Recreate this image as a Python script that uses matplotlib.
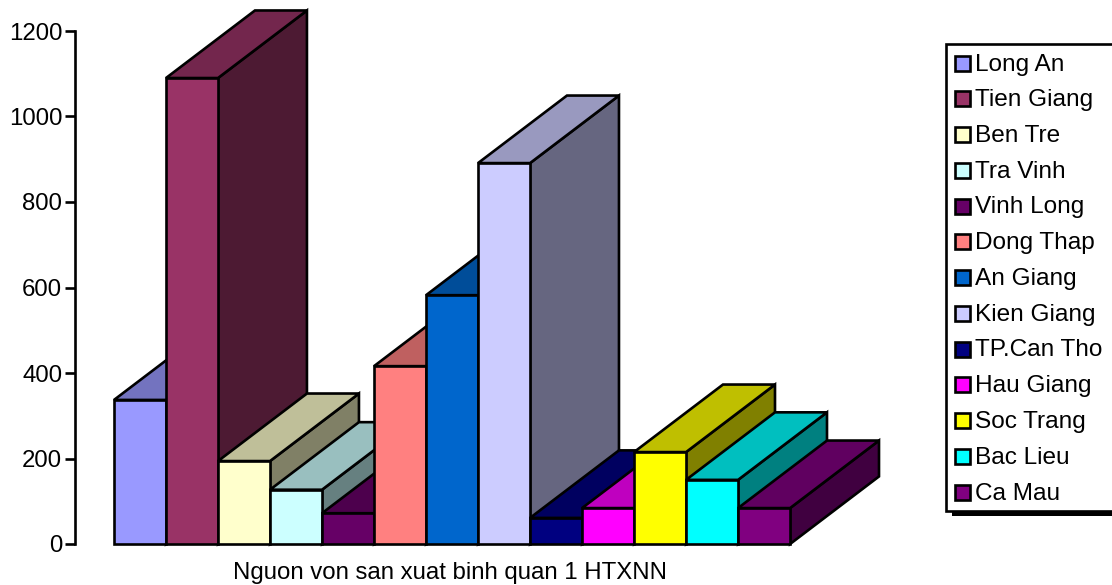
import matplotlib
matplotlib.use("Agg")
import matplotlib.pyplot as plt
from matplotlib.colors import to_rgb
from matplotlib.patches import Polygon, Rectangle

provinces = ["Long An", "Tien Giang", "Ben Tre", "Tra Vinh", "Vinh Long", "Dong Thap", "An Giang",
             "Kien Giang", "TP.Can Tho", "Hau Giang", "Soc Trang", "Bac Lieu", "Ca Mau"]
capital = [337, 1090, 194, 127, 72, 416, 582, 891, 61, 84, 215, 150, 84]
colors = ["#9999FF", "#993366", "#FFFFCC", "#CCFFFF", "#660066", "#FF8080", "#0066CC",
          "#CCCCFF", "#000080", "#FF00FF", "#FFFF00", "#00FFFF", "#800080"]
y_ticks = [0, 200, 400, 600, 800, 1000, 1200]
x_title = "Nguon von san xuat binh quan 1 HTXNN"

W, H = 1112, 585
plt.rcParams["font.family"] = ["Liberation Sans", "DejaVu Sans"]
fig = plt.figure(figsize=(W / 100, H / 100), dpi=100, facecolor="white")

# Axes frame in pixels: value axis at x=75, baseline at y=544, 1200 at y=31
left, right, top, bottom = 75, 879, 31, 544
ax = fig.add_axes([left / W, 1 - bottom / H, (right - left) / W, (bottom - top) / H])
ax.set_xlim(-0.75, 14.71)
ax.set_ylim(0, 1200)

# Oblique depth of the extruded columns, in data units
depth_x, depth_y = 1.71, 158


def shade(color, k):
    return tuple(c * k for c in to_rgb(color))


edge = dict(edgecolor="black", linewidth=1.9, joinstyle="miter", clip_on=False)
for i, (value, color) in enumerate(zip(capital, colors)):
    x0, x1 = i, i + 1
    side = [(x1, 0), (x1 + depth_x, depth_y), (x1 + depth_x, value + depth_y), (x1, value)]
    roof = [(x0, value), (x0 + depth_x, value + depth_y), (x1 + depth_x, value + depth_y), (x1, value)]
    front = [(x0, 0), (x0, value), (x1, value), (x1, 0)]
    ax.add_patch(Polygon(side, closed=True, facecolor=shade(color, 0.5), zorder=2 + i, **edge))
    ax.add_patch(Polygon(roof, closed=True, facecolor=shade(color, 0.75), zorder=2 + i, **edge))
    ax.add_patch(Polygon(front, closed=True, facecolor=color, zorder=2 + i, **edge))

for name in ("top", "right", "bottom"):
    ax.spines[name].set_visible(False)
ax.spines["left"].set_linewidth(1.9)
ax.patch.set_alpha(0)
ax.set_xticks([])
ax.set_yticks(y_ticks)
ax.tick_params(axis="y", length=7.2, width=1.9, labelsize=17.3, pad=2, color="black")

# Pixel-space overlay for the legend box and the category title
overlay = fig.add_axes([0, 0, 1, 1], zorder=-1)
overlay.set_xlim(0, W)
overlay.set_ylim(H, 0)
overlay.axis("off")
overlay.text(450, 573, x_title, fontsize=17.3, ha="center", va="center", color="black")

legend_layer = fig.add_axes([0, 0, 1, 1], zorder=5)
legend_layer.set_xlim(0, W)
legend_layer.set_ylim(H, 0)
legend_layer.axis("off")
legend_layer.add_patch(Rectangle((952, 60), 170, 456, facecolor="black", edgecolor="none"))
legend_layer.add_patch(Rectangle((946, 44), 176, 467, facecolor="white", edgecolor="black", linewidth=1.9))
for i, (name, color) in enumerate(zip(provinces, colors)):
    y = 63 + i * 35.75
    legend_layer.add_patch(Rectangle((955, y - 7.5), 15, 15, facecolor=color, edgecolor="black", linewidth=1.9))
    legend_layer.text(975, y + 1.5, name, fontsize=17.6, ha="left", va="center", color="black")

fig.savefig("out.png", dpi=100)
